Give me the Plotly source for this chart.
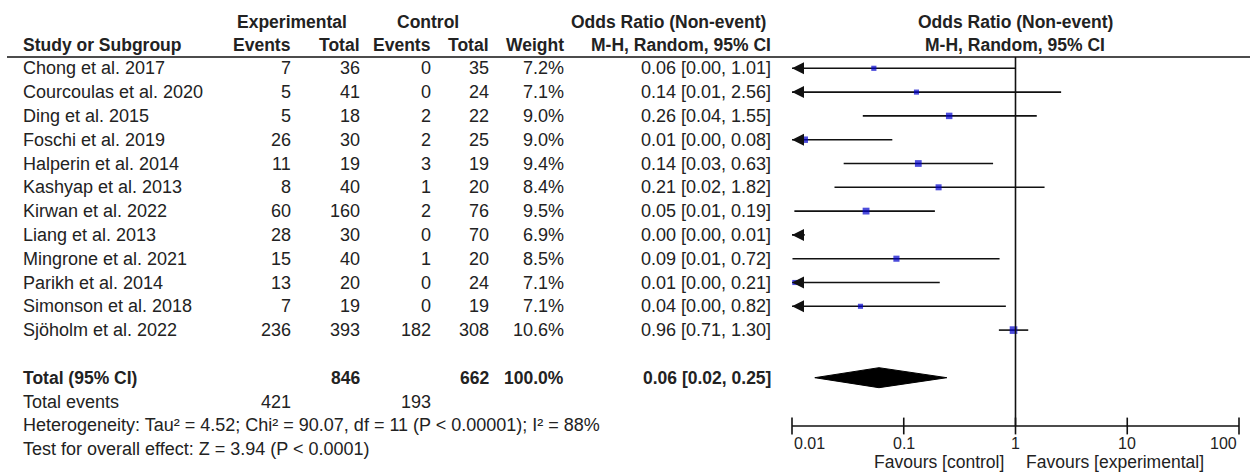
import math
import plotly.graph_objects as go

# ---------------- data ----------------
studies = ["Chong et al. 2017", "Courcoulas et al. 2020", "Ding et al. 2015", "Foschi et al. 2019",
           "Halperin et al. 2014", "Kashyap et al. 2013", "Kirwan et al. 2022", "Liang et al. 2013",
           "Mingrone et al. 2021", "Parikh et al. 2014", "Simonson et al. 2018", "Sjöholm et al. 2022"]
exp_events = [7, 5, 5, 26, 11, 8, 60, 28, 15, 13, 7, 236]
exp_total = [36, 41, 18, 30, 19, 40, 160, 30, 40, 20, 19, 393]
ctl_events = [0, 0, 2, 2, 3, 1, 2, 0, 1, 0, 0, 182]
ctl_total = [35, 24, 22, 25, 19, 20, 76, 70, 20, 24, 19, 308]
weights = [7.2, 7.1, 9.0, 9.0, 9.4, 8.4, 9.5, 6.9, 8.5, 7.1, 7.1, 10.6]
or_text = ["0.06 [0.00, 1.01]", "0.14 [0.01, 2.56]", "0.26 [0.04, 1.55]", "0.01 [0.00, 0.08]",
           "0.14 [0.03, 0.63]", "0.21 [0.02, 1.82]", "0.05 [0.01, 0.19]", "0.00 [0.00, 0.01]",
           "0.09 [0.01, 0.72]", "0.01 [0.00, 0.21]", "0.04 [0.00, 0.82]", "0.96 [0.71, 1.30]"]
# estimated unrounded values read from the plotted positions
or_est = [0.054, 0.13, 0.255, 0.013, 0.135, 0.205, 0.046, 0.001, 0.086, 0.0106, 0.041, 0.96]
ci_low = [0.003, 0.007, 0.043, 0.0005, 0.029, 0.024, 0.0105, 0.0001, 0.0101, 0.0005, 0.002, 0.71]
ci_high = [1.01, 2.56, 1.55, 0.079, 0.63, 1.82, 0.19, 0.013, 0.72, 0.21, 0.82, 1.30]

pooled = {"est": 0.06, "low": 0.016, "high": 0.243, "text": "0.06 [0.02, 0.25]"}
total_exp, total_ctl = 846, 662
total_weight = "100.0%"
events_exp, events_ctl = 421, 193
heterogeneity = "Heterogeneity: Tau² = 4.52; Chi² = 90.07, df = 11 (P < 0.00001); I² = 88%"
overall = "Test for overall effect: Z = 3.94 (P < 0.0001)"
tick_vals = [0.01, 0.1, 1, 10, 100]
tick_text = ["0.01", "0.1", "1", "10", "100"]

# ---------------- layout constants ----------------
W, H = 1250, 472
ROW0, DY = 68.3, 23.8


def row_of(py):
    return (py - ROW0) / DY


FONT = "Liberation Sans, Arial, sans-serif"
FS = 18
TXT = "#222222"
BLUE = "#0000cc"
LINE = "#111111"

n = len(studies)
rows = list(range(n))
ROW_TOTAL = 13
ROW_EVENTS = 14
ROW_HET = 15
ROW_TEST = 16
ROW_AXIS = row_of(426)
ROW_TICKLAB = row_of(443)
ROW_FAV = row_of(462)
ROW_HDR1 = row_of(22)
ROW_HDR2 = row_of(45)
ROW_LINE = row_of(57)

# column right edges (px)
C_NAME = 21
C_EE, C_ET, C_CE, C_CT, C_W, C_OR = 293, 362, 433, 491, 566, 773

fig = go.Figure()

# CI lines
xs, ys = [], []
for i in rows:
    xs += [ci_low[i], ci_high[i], None]
    ys += [i, i, None]
fig.add_trace(go.Scatter(x=xs, y=ys, mode="lines", line=dict(color=LINE, width=1.6),
                         hoverinfo="skip"))

# squares
fig.add_trace(go.Scatter(x=or_est, y=rows, mode="markers",
                         marker=dict(symbol="square", color=BLUE, size=[w * 0.72 for w in weights],
                                     line=dict(width=0)),
                         hoverinfo="skip"))

# diamond
fig.add_trace(go.Scatter(x=[pooled["low"], pooled["est"], pooled["high"], pooled["est"], pooled["low"]],
                         y=[ROW_TOTAL, ROW_TOTAL - 0.42, ROW_TOTAL, ROW_TOTAL + 0.42, ROW_TOTAL],
                         mode="lines", fill="toself", fillcolor="#000", line=dict(color="#000", width=1),
                         hoverinfo="skip"))

# line of no effect
fig.add_trace(go.Scatter(x=[1, 1], y=[ROW_LINE, ROW_AXIS], mode="lines",
                         line=dict(color=LINE, width=1.6), hoverinfo="skip", cliponaxis=False))

# axis line with ticks
fig.add_trace(go.Scatter(x=[tick_vals[0], tick_vals[-1]], y=[ROW_AXIS, ROW_AXIS], mode="lines",
                         line=dict(color=LINE, width=1.6), hoverinfo="skip", cliponaxis=False))
fig.add_trace(go.Scatter(x=tick_vals, y=[ROW_AXIS] * len(tick_vals), mode="markers",
                         marker=dict(symbol="line-ns-open", size=12, color=LINE,
                                     line=dict(color=LINE, width=1.6)),
                         hoverinfo="skip", cliponaxis=False))

annotations = []


def txt(s, px, row, anchor="right", bold=False, size=FS):
    if bold:
        s = "<b>" + s + "</b>"
    annotations.append(dict(text=s, x=px / W, xref="paper", y=row, yref="y", xanchor=anchor,
                            yanchor="middle", showarrow=False,
                            font=dict(family=FONT, size=size, color=TXT)))


HS = 17.5
# headers
txt("Experimental", 292, ROW_HDR1, "center", True, HS)
txt("Control", 428, ROW_HDR1, "center", True, HS)
txt("Odds Ratio (Non-event)", 768, ROW_HDR1, "right", True, HS)
txt("Odds Ratio (Non-event)", 1015, ROW_HDR1, "center", True, HS)
txt("Study or Subgroup", C_NAME, ROW_HDR2, "left", True, HS)
txt("Events", C_EE, ROW_HDR2, "right", True, HS)
txt("Total", C_ET, ROW_HDR2, "right", True, HS)
txt("Events", C_CE, ROW_HDR2, "right", True, HS)
txt("Total", C_CT, ROW_HDR2, "right", True, HS)
txt("Weight", C_W, ROW_HDR2, "right", True, HS)
txt("M-H, Random, 95% CI", C_OR, ROW_HDR2, "right", True, HS)
txt("M-H, Random, 95% CI", 1015, ROW_HDR2, "center", True, HS)

for i in rows:
    txt(studies[i], C_NAME, i, "left")
    txt(str(exp_events[i]), C_EE, i)
    txt(str(exp_total[i]), C_ET, i)
    txt(str(ctl_events[i]), C_CE, i)
    txt(str(ctl_total[i]), C_CT, i)
    txt(f"{weights[i]:.1f}%", C_W, i)
    txt(or_text[i], C_OR, i)

txt("Total (95% CI)", C_NAME, ROW_TOTAL, "left", True, HS)
txt(str(total_exp), C_ET, ROW_TOTAL, "right", True, HS)
txt(str(total_ctl), C_CT, ROW_TOTAL, "right", True, HS)
txt(total_weight, C_W, ROW_TOTAL, "right", True, HS)
txt(pooled["text"], C_OR, ROW_TOTAL, "right", True, HS)
txt("Total events", C_NAME, ROW_EVENTS, "left")
txt(str(events_exp), C_EE, ROW_EVENTS)
txt(str(events_ctl), C_CE, ROW_EVENTS)
txt(heterogeneity, C_NAME, ROW_HET, "left")
txt(overall, C_NAME, ROW_TEST, "left")

# arrows for CIs running off the left edge
for i in rows:
    if ci_low[i] < tick_vals[0]:
        annotations.append(dict(x=math.log10(tick_vals[0]), y=i, xref="x", yref="y",
                                ax=math.log10(tick_vals[0]) + 0.1, ay=i, axref="x", ayref="y",
                                text="", showarrow=True, arrowhead=2, arrowsize=1.5,
                                arrowwidth=1.6, arrowcolor=LINE, standoff=0, startstandoff=0))

# tick labels
for k, (v, t) in enumerate(zip(tick_vals, tick_text)):
    anchor = "left" if k == 0 else ("right" if k == len(tick_vals) - 1 else "center")
    annotations.append(dict(text=t, x=math.log10(v), xref="x", y=ROW_TICKLAB, yref="y",
                            xanchor=anchor, yanchor="middle", showarrow=False,
                            font=dict(family=FONT, size=16, color=TXT)))

annotations.append(dict(text="Favours [control]", x=0, xref="x", y=ROW_FAV, yref="y",
                        xanchor="right", yanchor="middle", xshift=-10, showarrow=False,
                        font=dict(family=FONT, size=17.5, color=TXT)))
annotations.append(dict(text="Favours [experimental]", x=0, xref="x", y=ROW_FAV, yref="y",
                        xanchor="left", yanchor="middle", xshift=8, showarrow=False,
                        font=dict(family=FONT, size=17.5, color=TXT)))

fig.update_layout(
    width=W, height=H, margin=dict(l=0, r=0, t=0, b=0),
    paper_bgcolor="white", plot_bgcolor="white", showlegend=False,
    xaxis=dict(type="log", range=[-2, 2], domain=[792 / W, 1239 / W], visible=False),
    yaxis=dict(range=[row_of(H), row_of(0)], domain=[0, 1], visible=False),
    annotations=annotations,
    shapes=[dict(type="line", xref="paper", yref="y", x0=7 / W, x1=1.0, y0=ROW_LINE, y1=ROW_LINE,
                 line=dict(color=LINE, width=1.6))],
)

fig.write_html("out.html", config={"displayModeBar": False},
               post_script="document.body.style.margin='0';document.body.style.overflow='hidden';")
